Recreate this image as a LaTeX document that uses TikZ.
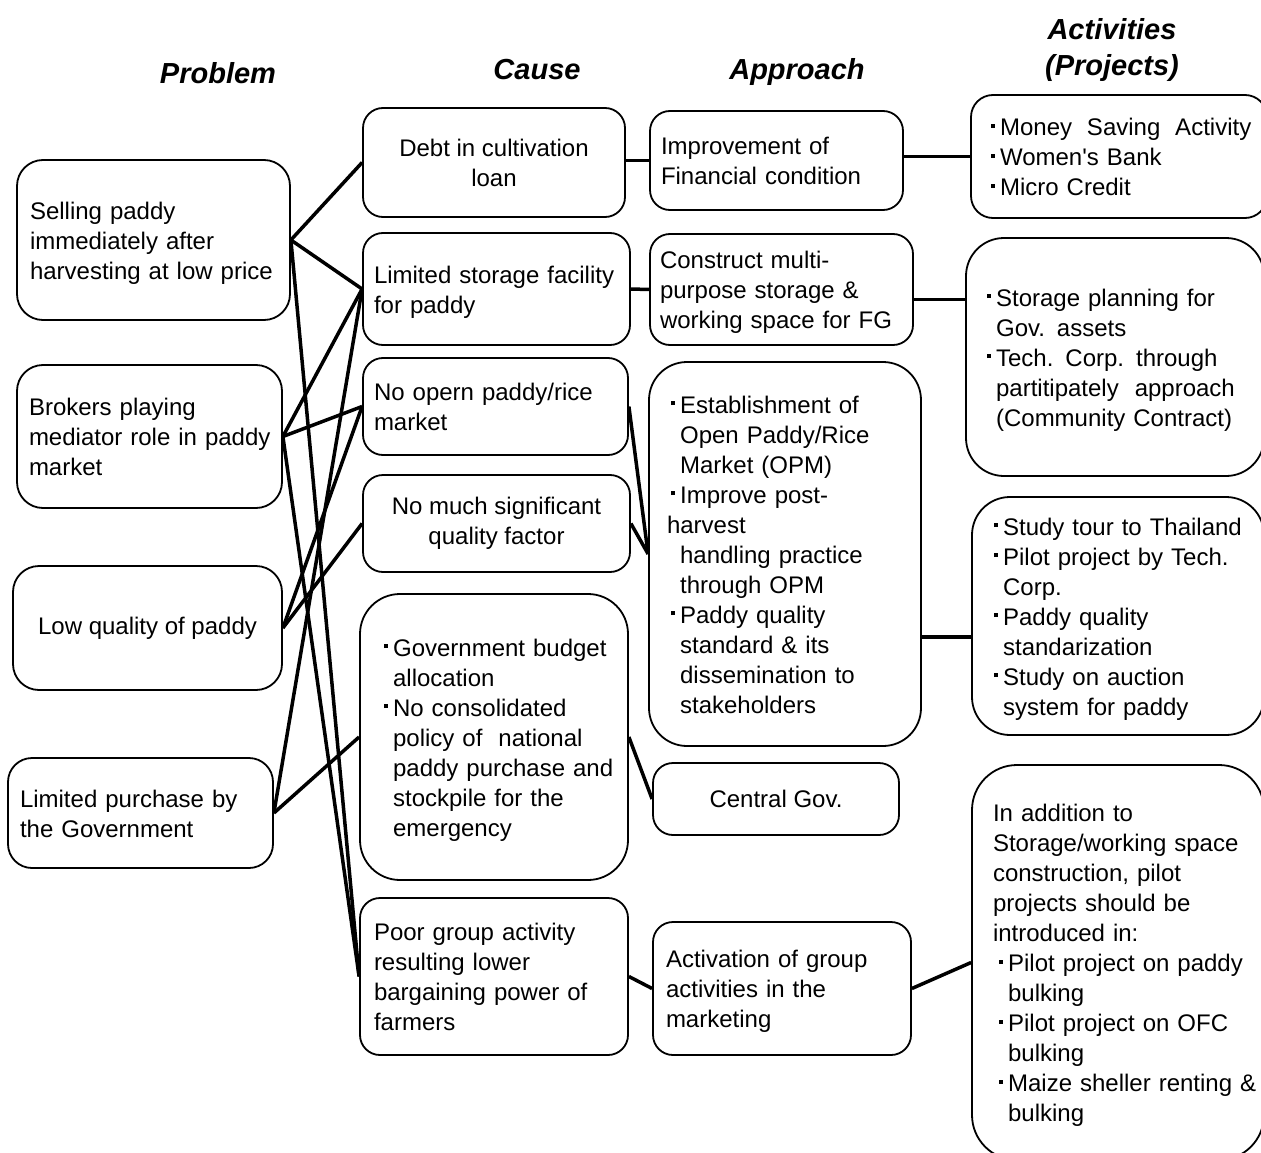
\documentclass[tikz,border=0pt]{standalone}
\usepackage{fontspec}
\setmainfont{Liberation Sans}
\usetikzlibrary{calc}
% small square bullet and matching hanging indent
\newcommand\bul{\makebox[0.42em][l]{\hspace{0.04em}\rule[0.33em]{0.15em}{0.15em}}}
\newcommand\ind{\makebox[0.42em]{}}
% unbreakable block of left-aligned lines, nudged a little downwards
\newcommand\lines[1]{\begin{tabular}{@{}l@{}}\rule{0pt}{27pt}#1\end{tabular}}
\begin{document}
\begin{tikzpicture}[x=1pt,y=-1pt,
  box/.style={draw, line width=1.8pt, rounded corners=#1, inner ysep=0pt,
              font=\fontsize{24}{30}\selectfont},
  box/.default=20pt,
  lbox/.style={box=#1, align=left},
  lbox/.default=20pt,
  cbox/.style={box=#1, align=center, inner xsep=0pt},
  cbox/.default=20pt,
  link/.style={line width=3.5pt},
  head/.style={font=\fontsize{29}{36}\selectfont\bfseries\itshape, anchor=base}]
\useasboundingbox (0,0) rectangle (1261,1153);
\clip (0,0) rectangle (1261,1153);

% column headings
\node[head] (hP) at (218,84) {Problem};
\node[head] (hC) at (537,80) {Cause};
\node[head] (hA) at (797,80) {Approach};
\node[head] (hT1) at (1112,40) {Activities};
\node[head] (hT2) at (1112,76) {(Projects)};

% problems
\node[lbox=26pt, text width=247pt, inner xsep=13pt, minimum height=160pt] (P1) at (153.5,240)
  {\lines{Selling paddy\\immediately after\\harvesting at low price}};
\node[lbox=26pt, text width=241pt, inner xsep=12pt, minimum height=143pt] (P2) at (149.5,436.5)
  {\lines{Brokers playing\\mediator role in paddy\\market}};
\node[cbox=26pt, minimum width=269pt, minimum height=124pt] (P3) at (147.5,628)
  {Low quality of paddy};
\node[lbox=24pt, text width=241pt, inner xsep=12pt, minimum height=110pt] (P4) at (140.5,813)
  {\lines{Limited purchase by\\the Government}};

% causes
\node[cbox, minimum width=262pt, minimum height=109pt] (C1) at (494,162.5)
  {Debt in cultivation\\loan};
\node[lbox, text width=245pt, inner xsep=11pt, minimum height=112pt] (C2) at (496.5,289)
  {\lines{Limited storage facility\\for paddy}};
\node[lbox, text width=243pt, inner xsep=11pt, minimum height=97pt] (C3) at (495.5,406.5)
  {\lines{No opern paddy/rice\\market}};
\node[cbox, minimum width=267pt, minimum height=97pt] (C4) at (496.5,523.5)
  {No much significant\\quality factor};
\node[lbox=40pt, text width=222pt, inner xsep=23pt, minimum height=286pt] (C5) at (494,737)
  {\lines{\bul Government budget\\\ind allocation\\\bul No consolidated\\\ind policy of\ \ national\\\ind paddy purchase and\\\ind stockpile for the\\\ind emergency}};
\node[lbox, text width=240pt, inner xsep=14pt, minimum height=157pt] (C6) at (494,976.5)
  {\lines{Poor group activity\\resulting lower\\bargaining power of\\farmers}};

% approaches
\node[lbox, text width=231pt, inner xsep=11pt, minimum height=99pt] (A1) at (776.5,160.5)
  {\lines{Improvement of\\Financial condition}};
\node[lbox, text width=243pt, inner xsep=10pt, minimum height=111pt] (A2) at (781.5,289.5)
  {\lines{Construct multi-\\purpose storage \&\\working space for FG}};
\node[lbox=38pt, text width=230pt, inner xsep=21pt, minimum height=384pt] (A3) at (785,554)
  {\lines{\bul Establishment of\\\ind Open Paddy/Rice\\\ind Market (OPM)\\\bul Improve post-\\\hspace*{-3pt}harvest\\\ind handling practice\\\ind through OPM\\\bul Paddy quality\\\ind standard \& its\\\ind dissemination to\\\ind stakeholders}};
\node[cbox, minimum width=246pt, minimum height=72pt] (A4) at (776,799)
  {Central Gov.};
\node[lbox, text width=232pt, inner xsep=13pt, minimum height=133pt] (A5) at (782,988.5)
  {\lines{Activation of group\\activities in the\\marketing}};

% activities (projects)
\node[lbox=22pt, text width=258pt, inner xsep=19pt, minimum height=123pt] (T1) at (1119,156.5)
  {\lines{\bul Money\hspace{0.62em}Saving\hspace{0.62em}Activity\\\bul Women\textquotesingle s Bank\\\bul Micro Credit}};
\node[lbox=38pt, text width=258pt, inner xsep=20pt, minimum height=238pt] (T2) at (1115,357)
  {\lines{\bul Storage planning for\\\ind Gov. assets\\\bul Tech. Corp. through\\\ind partitipately\ \ approach\\\ind (Community Contract)}};
\node[lbox=38pt, text width=250pt, inner xsep=21pt, minimum height=238pt] (T3) at (1118,616)
  {\lines{\bul Study tour to Thailand\\\bul Pilot project by Tech.\\\ind Corp.\\\bul Paddy quality\\\ind standarization\\\bul Study on auction\\\ind system for paddy}};
\node[lbox=45pt, text width=250pt, inner xsep=21pt, minimum height=395pt] (T4) at (1118,962.5)
  {\lines{In addition to\\Storage/working space\\construction, pilot\\projects should be\\introduced in:\\
   \hspace*{5pt}\bul Pilot project on paddy\\\hspace*{5pt}\ind bulking\\
   \hspace*{5pt}\bul Pilot project on OFC\\\hspace*{5pt}\ind bulking\\
   \hspace*{5pt}\bul Maize sheller renting \&\\\hspace*{5pt}\ind bulking}};

% problem -> cause
\draw[link] (P1.east) -- (C1.west);
\draw[link] (P1.east) -- (C2.west);
\draw[link] (P1.east) -- (C6.west);
\draw[link] (P2.east) -- (C2.west);
\draw[link] (P2.east) -- (C3.west);
\draw[link] (P2.east) -- (C6.west);
\draw[link] (P3.east) -- (C3.west);
\draw[link] (P3.east) -- (C4.west);
\draw[link] (P4.east) -- (C2.west);
\draw[link] (P4.east) -- (C5.west);

% cause -> approach
\draw[link] (A1.west -| C1.east) -- (A1.west);
\draw[link] (C2.east) -- (A2.west);
\draw[link] (C3.east) -- (A3.west);
\draw[link] (C4.east) -- (A3.west);
\draw[link] (C5.east) -- (A4.west);
\draw[link] (C6.east) -- (A5.west);

% approach -> activities
\path ([yshift=4pt]A1.east) coordinate (a1o);
\path ([yshift=-10pt]A2.east) coordinate (a2o);
\path ([yshift=-83pt]A3.east) coordinate (a3o);
\draw[link] (a1o) -- (a1o -| T1.west);
\draw[link] (a2o) -- (a2o -| T2.west);
\draw[link] (a3o) -- (a3o -| T3.west);
\draw[link] (A5.east) -- (T4.west);
\end{tikzpicture}
\end{document}
